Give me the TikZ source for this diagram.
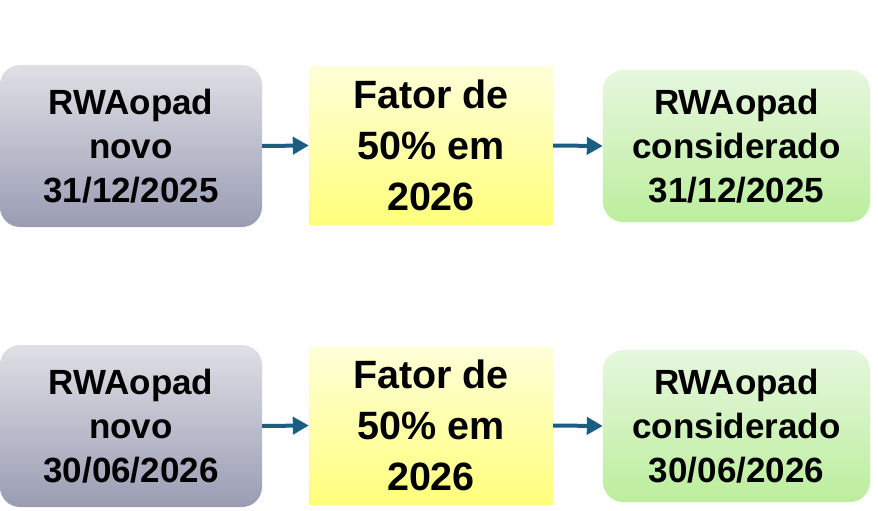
\documentclass[tikz,border=0pt]{standalone}
\usepackage{fontspec}
\setmainfont{Liberation Sans}
\usetikzlibrary{arrows.meta}
\definecolor{graytop}{HTML}{DFDFE5}
\definecolor{graybot}{HTML}{9A9CB3}
\definecolor{yeltop}{HTML}{FFFFD8}
\definecolor{yelbot}{HTML}{FFFF7C}
\definecolor{grntop}{HTML}{E6F7DE}
\definecolor{grnbot}{HTML}{BCEE9D}
\definecolor{arrowc}{HTML}{1B5E82}
\tikzset{
  boxbase/.style={inner sep=0pt, align=center, text=black},
  graybox/.style={boxbase, rounded corners=20pt, top color=graytop, bottom color=graybot,
    minimum width=262pt, minimum height=162pt, font=\fontsize{35}{44}\selectfont\bfseries},
  yelbox/.style={boxbase, top color=yeltop, bottom color=yelbot,
    minimum width=244pt, minimum height=157pt, font=\fontsize{39.5}{51}\selectfont\bfseries},
  grnbox/.style={boxbase, rounded corners=20pt, top color=grntop, bottom color=grnbot,
    minimum width=267pt, minimum height=152pt, font=\fontsize{35}{44}\selectfont\bfseries},
  conn/.style={draw=arrowc, line width=4pt, -{Triangle[length=16pt,width=17pt]}}
}
\begin{document}
\begin{tikzpicture}[x=1pt,y=-1pt]
\useasboundingbox (0,0) rectangle (878,511);
% row 1
\node[graybox] (g1) at (131,146) {RWAopad\\novo\\31/12/2025};
\node[yelbox] (y1) at (431,145.5) {Fator de\\50\% em\\2026};
\node[grnbox] (c1) at (736.5,146) {RWAopad\\considerado\\31/12/2025};
\draw[conn] (g1.east) -- (y1.west);
\draw[conn] (y1.east) -- (c1.west);
% row 2
\node[graybox] (g2) at (131,426) {RWAopad\\novo\\30/06/2026};
\node[yelbox] (y2) at (431,425.5) {Fator de\\50\% em\\2026};
\node[grnbox] (c2) at (736.5,426) {RWAopad\\considerado\\30/06/2026};
\draw[conn] (g2.east) -- (y2.west);
\draw[conn] (y2.east) -- (c2.west);
\end{tikzpicture}
\end{document}
